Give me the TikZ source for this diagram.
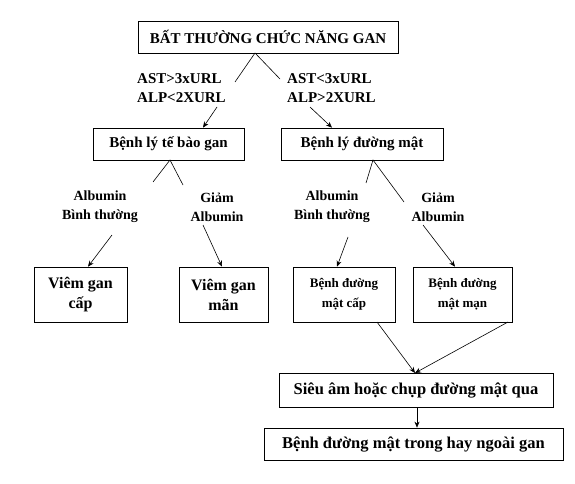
\documentclass[tikz,border=0pt]{standalone}
\usepackage{fontspec}
\setmainfont{Liberation Serif}
\usetikzlibrary{arrows.meta}
\tikzset{
  box/.style={draw=black, line width=0.7pt, inner sep=0pt, align=center, font=\fontsize{15}{17}\selectfont\bfseries},
  lbl/.style={inner sep=0pt, font=\fontsize{14}{19}\selectfont\bfseries},
  conn/.style={line width=0.6pt},
  arr/.style={line width=0.6pt, -{Stealth[length=6pt,width=5pt]}}
}
\begin{document}
\begin{tikzpicture}[x=1pt,y=-1pt]
\useasboundingbox (0,0) rectangle (575,484);
% boxes
\node[box, minimum width=260pt, minimum height=32pt] (top) at (268,37) {BẤT THƯỜNG CHỨC NĂNG GAN};
\node[box, minimum width=151pt, minimum height=32pt] (bl) at (168.5,144) {Bệnh lý tế bào gan};
\node[box, minimum width=162pt, minimum height=32pt] (br) at (362,144) {Bệnh lý đường mật};
\node[box, minimum width=93pt, minimum height=55pt, font=\fontsize{16}{20}\selectfont\bfseries] (b1) at (80.5,294.5) {Viêm gan\\cấp};
\node[box, minimum width=89pt, minimum height=55pt, font=\fontsize{16}{20}\selectfont\bfseries] (b2) at (223.5,294.5) {Viêm gan\\mãn};
\node[box, minimum width=102pt, minimum height=55pt, font=\fontsize{13}{20}\selectfont\bfseries] (b3) at (344,294.5) {Bệnh đường\\mật cấp};
\node[box, minimum width=99pt, minimum height=55pt, font=\fontsize{13}{20}\selectfont\bfseries] (b4) at (462.5,294.5) {Bệnh đường\\mật mạn};
\node[box, minimum width=274pt, minimum height=34pt, font=\fontsize{16.5}{19}\selectfont\bfseries] (su) at (416,390) {Siêu âm hoặc chụp đường mật qua};
\node[box, minimum width=299pt, minimum height=32pt, font=\fontsize{16.5}{19}\selectfont\bfseries] (fin) at (413.5,444) {Bệnh đường mật trong hay ngoài gan};
% labels
\node[lbl, align=left, anchor=west, font=\fontsize{15}{19}\selectfont\bfseries] (l1) at (137,88.5) {AST>3xURL\\ALP<2XURL};
\node[lbl, align=left, anchor=west, font=\fontsize{15}{19}\selectfont\bfseries] (l2) at (287,88.5) {AST<3xURL\\ALP>2XURL};
\node[lbl, align=center] (l3) at (100,207) {Albumin\\Bình thường};
\node[lbl, align=center] (l4) at (217,207) {Giảm\\Albumin};
\node[lbl, align=center] (l5) at (332,207) {Albumin\\Bình thường};
\node[lbl, align=center] (l6) at (438,207) {Giảm\\Albumin};
% connector points
\coordinate (t0) at (255,53);
\coordinate (t1) at (235,82);
\coordinate (t2) at (280,79);
\coordinate (a1) at (217,107);
\coordinate (a2) at (310,107);
\coordinate (c0) at (170,160);
\coordinate (c1) at (153,182);
\coordinate (c2) at (183,185);
\coordinate (d0) at (373,160);
\coordinate (d1) at (366,183);
\coordinate (d2) at (404,202);
\coordinate (e1) at (112,235);
\coordinate (e2) at (203,225);
\coordinate (e3) at (348,237);
\coordinate (e4) at (423,225);
\coordinate (f1) at (377,322);
\coordinate (f2) at (508,322);
\coordinate (g0) at (415,373);
% connectors
\draw[conn] (t1) -- (t0) -- (t2);
\draw[arr] (a1) -- (bl.north -| 203,0);
\draw[arr] (a2) -- (br.north -| 332,0);
\draw[conn] (c1) -- (c0) -- (c2);
\draw[conn] (d1) -- (d0) -- (d2);
\draw[arr] (e1) -- (b1.north -| 88,0);
\draw[arr] (e2) -- (b2.north -| 222,0);
\draw[arr] (e3) -- (b3.north -| 337,0);
\draw[arr] (e4) -- (b4.north -| 455,0);
\draw[arr] (f1) -- (g0);
\draw[arr] (f2) -- (g0);
\draw[arr] (su.south -| 417,0) -- (fin.north -| 417,0);
\end{tikzpicture}
\end{document}
